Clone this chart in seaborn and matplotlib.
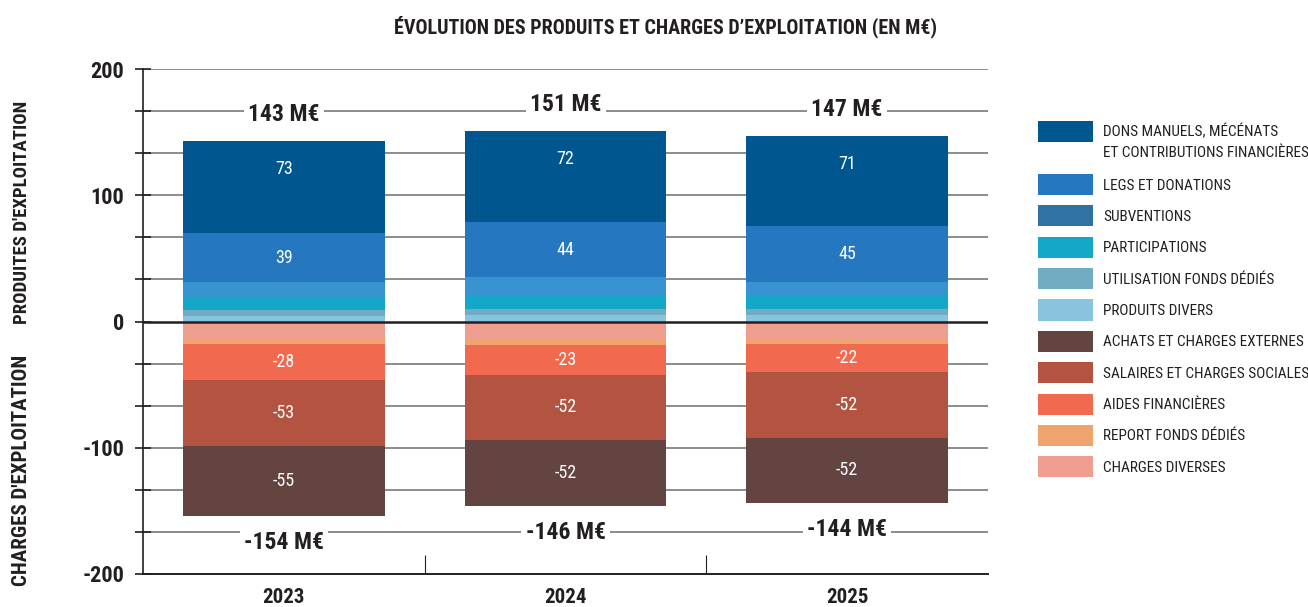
import matplotlib
matplotlib.use("Agg")
import matplotlib.pyplot as plt
from matplotlib.patches import Patch
from matplotlib import font_manager
import numpy as np
import pandas as pd
import seaborn as sns

# ---- data (M€) ----
years = ["2023", "2024", "2025"]

# operating income, listed from the top of the stack down to zero
dons = [73, 72, 71]
legs = [39, 44, 45]
subventions = [12, 15, 11]
participations = [10, 10, 10]
utilisation_fonds = [5, 5, 5]
produits_divers = [4, 5, 5]

# operating expenses, listed from the bottom of the stack up to zero
achats = [-55, -52, -52]
salaires = [-53, -52, -52]
aides = [-28, -23, -22]
report_fonds = [-3, -4, -3]
charges_diverses = [-15, -15, -15]

total_produits = [143, 151, 147]
total_charges = [-154, -146, -144]

income_labels = [
    "DONS MANUELS, MÉCÉNATS",
    "LEGS ET DONATIONS",
    "SUBVENTIONS",
    "PARTICIPATIONS",
    "UTILISATION FONDS DÉDIÉS",
    "PRODUITS DIVERS",
]
first_label_cont = "ET CONTRIBUTIONS FINANCIÈRES"
expense_labels = [
    "ACHATS ET CHARGES EXTERNES",
    "SALAIRES ET CHARGES SOCIALES",
    "AIDES FINANCIÈRES",
    "REPORT FONDS DÉDIÉS",
    "CHARGES DIVERSES",
]

income_colors = ["#00568f", "#2577bf", "#3893d1", "#14a7c7", "#72acc2", "#88c4e0"]
income_legend_colors = ["#00568f", "#2577bf", "#2f72a3", "#14a7c7", "#72acc2", "#88c4e0"]
expense_colors = ["#634441", "#b35442", "#f16a4f", "#eea46c", "#ef9d8e"]

income = [dons, legs, subventions, participations, utilisation_fonds, produits_divers]
expenses = [achats, salaires, aides, report_fonds, charges_diverses]

# ---- fonts ----
names = {f.name for f in font_manager.fontManager.ttflist}
cond = None
for cand in ["Roboto Condensed", "DejaVu Sans Condensed", "Liberation Sans Narrow", "Open Sans Condensed"]:
    if cand in names:
        cond = cand
        break

sns.set_theme(style="white")
base_family = [cond] if cond else ["DejaVu Sans"]
plt.rcParams["font.family"] = base_family + ["DejaVu Sans"]
plt.rcParams["font.stretch"] = "condensed"

fig = plt.figure(figsize=(13.08, 6.07), dpi=100)
ax = fig.add_axes([143 / 1308, 1 - 574 / 607, (988 - 143) / 1308, (574 - 69) / 607])

dark = "#231f20"

# gridlines every 200/6 units
for y in np.linspace(-200, 200, 13):
    if y not in (0, -200):
        ax.axhline(y, color="#8c8c8c", lw=1.4, zorder=0)

bar_w = 0.715

# stacked income: draw cumulative heights, tallest first
cum = np.zeros(3)
stack_tops = []
for vals in income[::-1]:
    cum = cum + np.array(vals)
    stack_tops.append(cum.copy())
stack_tops = stack_tops[::-1]  # aligned with income order
for top, col in zip(stack_tops, income_colors):
    df = pd.DataFrame({"year": years, "value": top})
    sns.barplot(data=df, x="year", y="value", color=col, width=bar_w,
                saturation=1, ax=ax, zorder=2, errorbar=None,
                linewidth=0, edgecolor="none")

cum = np.zeros(3)
stack_bottoms = []
for vals in expenses[::-1]:
    cum = cum + np.array(vals)
    stack_bottoms.append(cum.copy())
stack_bottoms = stack_bottoms[::-1]
for bot, col in zip(stack_bottoms, expense_colors):
    df = pd.DataFrame({"year": years, "value": bot})
    sns.barplot(data=df, x="year", y="value", color=col, width=bar_w,
                saturation=1, ax=ax, zorder=2, errorbar=None,
                linewidth=0, edgecolor="none")

x = np.arange(3)
# value labels inside the main segments
for i in range(3):
    ax.text(x[i], stack_tops[0][i] - 22, str(dons[i]), color="white",
            ha="center", va="center", fontsize=13, zorder=4)
    ax.text(x[i], stack_tops[1][i] - legs[i] / 2, str(legs[i]), color="white",
            ha="center", va="center", fontsize=13, zorder=4)
    for k, vals in ((0, achats), (1, salaires), (2, aides)):
        mid = stack_bottoms[k][i] - vals[i] / 2
        ax.text(x[i], mid, str(vals[i]), color="white",
                ha="center", va="center", fontsize=13, zorder=4)

# totals above/below each bar
for i in range(3):
    ax.text(x[i], total_produits[i] + 21, f"{total_produits[i]} M€", color=dark,
            ha="center", va="center", fontsize=17, fontweight="bold", zorder=5,
            bbox=dict(facecolor="white", edgecolor="none", pad=3))
    ax.text(x[i], total_charges[i] - 21, f"{total_charges[i]} M€",
            color=dark, ha="center", va="center", fontsize=17, fontweight="bold", zorder=5,
            bbox=dict(facecolor="white", edgecolor="none", pad=3))

ax.axhline(0, color=dark, lw=1.8, zorder=3)

ax.set_xlim(-0.5, 2.5)
ax.set_ylim(-200, 200)
yt = np.linspace(-200, 200, 13)
ax.set_yticks(yt)
ax.set_yticklabels(["" if int(round(v)) % 100 else f"{int(round(v))}" for v in yt])
ax.tick_params(axis="y", direction="inout", length=11, width=1.2, color=dark,
               labelsize=16, labelcolor=dark, pad=8, left=True)
for lab in ax.get_yticklabels():
    lab.set_fontweight("bold")

ax.set_xticks(x)
ax.set_xticklabels(years)
ax.set_xticks([0.5, 1.5], minor=True)
ax.tick_params(axis="x", which="major", length=0, labelsize=15, labelcolor=dark, pad=10)
ax.tick_params(axis="x", which="minor", direction="in", length=14, width=0.8, color=dark, bottom=True)
for lab in ax.get_xticklabels():
    lab.set_fontweight("bold")

ax.set_xlabel("")
ax.set_ylabel("")
sns.despine(ax=ax, top=True, right=True)
ax.spines["left"].set_color(dark)
ax.spines["left"].set_linewidth(1.2)
ax.spines["bottom"].set_color(dark)
ax.spines["bottom"].set_linewidth(1.4)

fig.text(665 / 1308, 1 - 27 / 607, "ÉVOLUTION DES PRODUITS ET CHARGES D’EXPLOITATION (EN M€)",
         ha="center", va="center", fontsize=14.5, fontweight="bold", color=dark)
fig.text(22 / 1308, 1 - 212 / 607, "PRODUITES D'EXPLOITATION", rotation=90,
         ha="center", va="center", fontsize=13.5, fontweight="bold", color=dark)
fig.text(22 / 1308, 1 - 470 / 607, "CHARGES D'EXPLOITATION", rotation=90,
         ha="center", va="center", fontsize=15, fontweight="bold", color=dark)

# legend: first entry has a second text line, the rest are evenly spaced
leg_kw = dict(loc="upper left", frameon=False, fontsize=11, handlelength=3.6,
              handleheight=1.75, handletextpad=0.65, borderpad=0, borderaxespad=0,
              labelcolor=dark)
all_leg_colors = income_legend_colors + expense_colors
all_leg_labels = income_labels + expense_labels
fig.legend([Patch(facecolor=all_leg_colors[0], edgecolor="none")], all_leg_labels[:1],
           bbox_to_anchor=(1038 / 1308, 1 - 121 / 607), **leg_kw)
fig.text(1103 / 1308, 1 - 153 / 607, first_label_cont, ha="left", va="center",
         fontsize=11, color=dark)
fig.legend([Patch(facecolor=c, edgecolor="none") for c in all_leg_colors[1:]],
           all_leg_labels[1:], bbox_to_anchor=(1038 / 1308, 1 - 174 / 607),
           labelspacing=0.67, **leg_kw)

fig.savefig("out.png", dpi=100)
